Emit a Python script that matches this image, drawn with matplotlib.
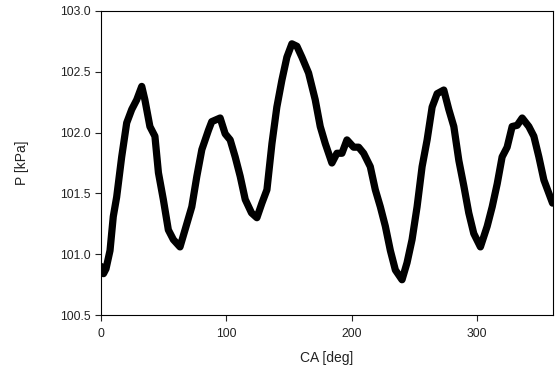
import matplotlib
matplotlib.use("Agg")
import matplotlib.pyplot as plt

ca = [0, 2, 4, 7.2, 9.8, 12.5, 16.5, 20.5, 24.5, 28.5, 32.5, 35, 39, 43, 45.8, 49.7,
      53.7, 57.7, 63, 67, 72.4, 76.4, 80.4, 85.7, 88.3, 95, 99, 103, 107, 111, 115,
      120, 124.3, 128.3, 132.3, 136.3, 140.2, 144.2, 148.2, 152.2, 156.2, 160.2,
      165.5, 170.8, 174.8, 178.8, 184.1, 188.1, 192.1, 196.1, 201.4, 205.4, 209.4,
      214.7, 218.7, 222.7, 226.7, 230.7, 234.7, 240, 244, 248, 252, 256, 260, 264,
      268, 273.3, 277.3, 281.3, 285.3, 289.3, 293.2, 297.2, 302.5, 307.9, 311.9,
      315.9, 319.8, 323.8, 327.8, 331.8, 335.8, 341.1, 345.1, 349.1, 353.1, 357.1,
      360]
p = [100.90, 100.84, 100.88, 101.03, 101.31, 101.47, 101.80, 102.08, 102.19, 102.27,
     102.38, 102.27, 102.05, 101.97, 101.67, 101.45, 101.20, 101.12, 101.06, 101.20,
     101.39, 101.64, 101.86, 102.02, 102.09, 102.12, 101.99, 101.94, 101.80, 101.64,
     101.45, 101.34, 101.30, 101.42, 101.53, 101.91, 102.21, 102.43, 102.62, 102.73,
     102.71, 102.62, 102.49, 102.27, 102.05, 101.91, 101.75, 101.83, 101.83, 101.94,
     101.88, 101.88, 101.83, 101.72, 101.53, 101.39, 101.23, 101.03, 100.87, 100.79,
     100.93, 101.12, 101.39, 101.72, 101.94, 102.21, 102.32, 102.35, 102.19, 102.05,
     101.77, 101.56, 101.34, 101.17, 101.06, 101.23, 101.39, 101.58, 101.80, 101.88,
     102.05, 102.06, 102.12, 102.05, 101.97, 101.80, 101.61, 101.50, 101.42]

x_ticks = [0, 100, 200, 300]
y_ticks = [100.5, 101.0, 101.5, 102.0, 102.5, 103.0]

plt.rcParams['font.family'] = ['Liberation Sans', 'DejaVu Sans']
fig = plt.figure(figsize=(5.57, 3.71), dpi=100)
ax = fig.add_axes([0.1813, 0.1509, 0.8107, 0.8195])
ax.plot(ca, p, color='black', lw=5.2, solid_joinstyle='round', solid_capstyle='round')
ax.set_xlim(0, 360)
ax.set_ylim(100.5, 103.0)
ax.set_xticks(x_ticks)
ax.set_yticks(y_ticks)
ax.set_yticklabels([f"{v:.1f}" for v in y_ticks])
ax.tick_params(direction='out', length=4.5, width=0.8, labelsize=8.7, colors='#222222')
ax.tick_params(axis='x', pad=5)
ax.tick_params(axis='y', pad=3)
for s in ax.spines.values():
    s.set_linewidth(0.8)
ax.set_xlabel('CA [deg]', fontsize=10, color='#222222', labelpad=8)
ax.set_ylabel('P [kPa]', fontsize=10, color='#222222', labelpad=22)
fig.savefig('out.png', dpi=100)
